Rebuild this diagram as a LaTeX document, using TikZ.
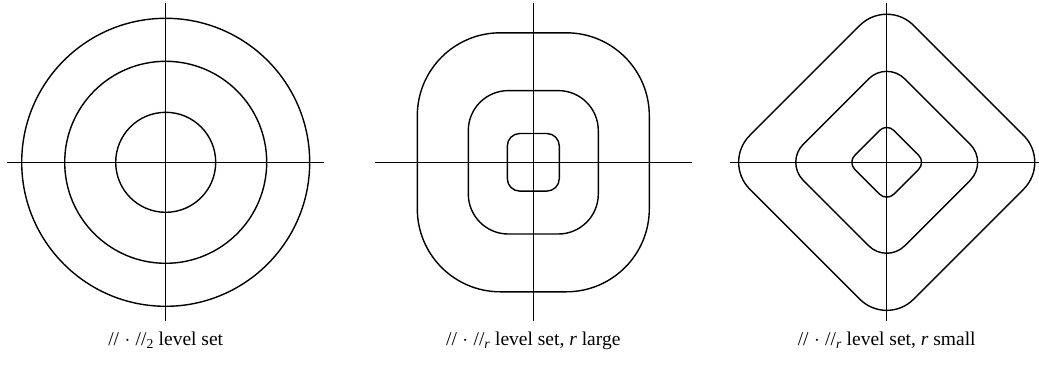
\documentclass[tikz,border=0pt]{standalone}
\usepackage{amsmath}
\usepackage{fontspec}
\setmainfont{Liberation Serif}
\usepackage{tikz}
\tikzset{
  levelcurve/.style={line width=1.4pt},
  axisline/.style={line width=1pt},
  caption/.style={anchor=base, inner sep=0pt, font=\fontsize{19.5}{22}\selectfont},
}

\begin{document}
\begin{tikzpicture}[x=1pt,y=-1pt]
\useasboundingbox (0,0) rectangle (1039,365);

% euclidean norm
\begin{scope}[shift={(165.7,162.3)}]
  \draw[axisline] (-158.5,0) -- (158.5,0);
  \draw[axisline] (0,-159) -- (0,158.5);
  \foreach \rad in {144,101,50}
    \draw[levelcurve] (0,0) circle[radius=\rad];
\end{scope}

% r large
\begin{scope}[shift={(533.3,162.3)}]
  \draw[axisline] (-158.5,0) -- (158.5,0);
  \draw[axisline] (0,-159) -- (0,158.5);
  \foreach \w/\h/\rc in {116/129.5/83, 65/71.7/40, 26/28.8/12.5}
    \draw[levelcurve, rounded corners=\rc pt] (-\w,-\h) rectangle (\w,\h);
\end{scope}

% r small
\begin{scope}[shift={(886.7,162.3)}]
  \draw[axisline] (-156.7,0) -- (156.7,0);
  \draw[axisline] (0,-159) -- (0,158.5);
  \foreach \a/\rc in {163.8/38, 101.5/25.5, 39/10}
    \draw[levelcurve, rounded corners=\rc pt] (0,-\a) -- (\a,0) -- (0,\a) -- (-\a,0) -- cycle;
\end{scope}

\node[caption] (capA) at (165.7,345) {//\;$\cdot$\;//$_{\text{2}}$ level set};
\node[caption] (capB) at (533.3,345) {//\;$\cdot$\;//$_{\textit{r}}$ level set, \textit{r} large};
\node[caption] (capC) at (886.7,345) {//\;$\cdot$\;//$_{\textit{r}}$ level set, \textit{r} small};
\end{tikzpicture}
\end{document}
